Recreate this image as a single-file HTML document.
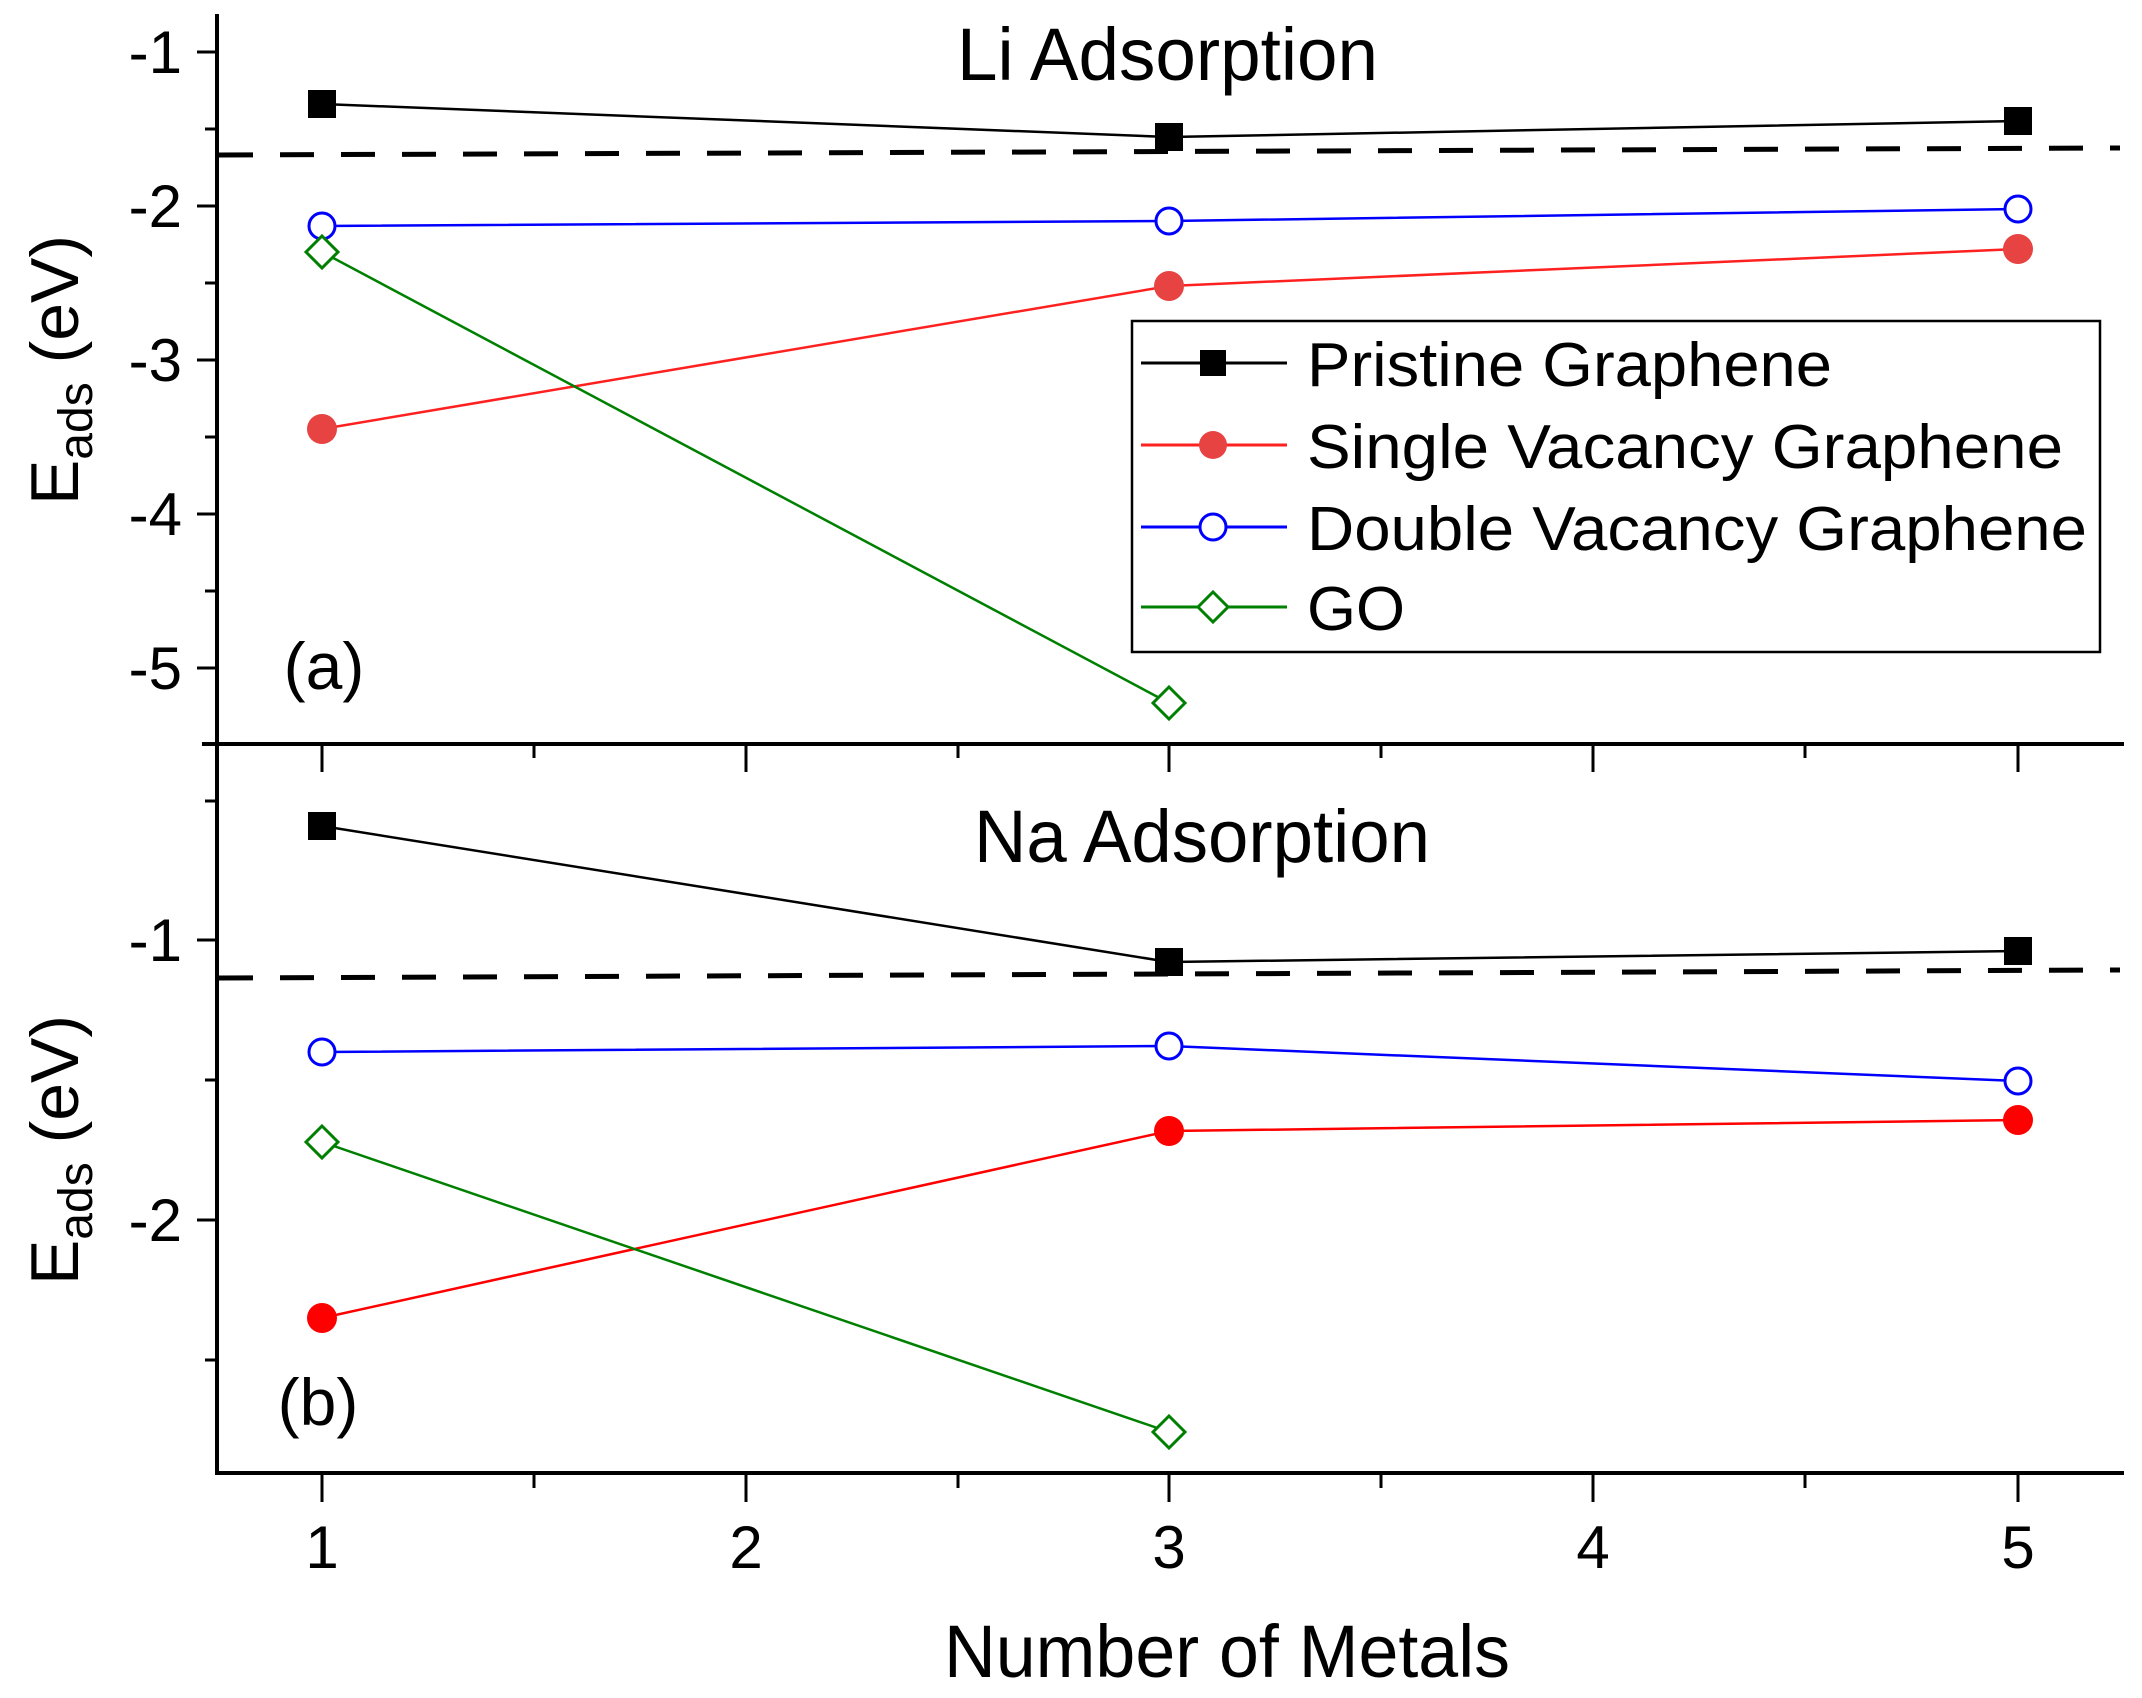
<!DOCTYPE html>
<html><head><meta charset="utf-8"><style>
html,body{margin:0;padding:0;background:#fff;}
svg{display:block;}
text{font-family:"Liberation Sans",Arial,sans-serif;fill:#000;}
</style></head><body>
<svg width="2142" height="1698" viewBox="0 0 2142 1698" xmlns="http://www.w3.org/2000/svg">
<g stroke="#000" stroke-width="4" fill="none">
<line x1="217" y1="14" x2="217" y2="1475"/>
<line x1="202" y1="744" x2="2124" y2="744"/>
<line x1="215" y1="1473" x2="2124" y2="1473"/>
</g>
<g stroke="#000" stroke-width="3">
<line x1="197" y1="52" x2="217" y2="52"/><line x1="197" y1="206" x2="217" y2="206"/>
<line x1="197" y1="360" x2="217" y2="360"/><line x1="197" y1="514" x2="217" y2="514"/>
<line x1="197" y1="668" x2="217" y2="668"/>
<line x1="205" y1="129" x2="217" y2="129"/><line x1="205" y1="283" x2="217" y2="283"/>
<line x1="205" y1="437" x2="217" y2="437"/><line x1="205" y1="591" x2="217" y2="591"/>
<line x1="197" y1="940" x2="217" y2="940"/><line x1="197" y1="1220" x2="217" y2="1220"/>
<line x1="205" y1="801" x2="217" y2="801"/><line x1="205" y1="1080" x2="217" y2="1080"/>
<line x1="205" y1="1360" x2="217" y2="1360"/>
<line x1="322" y1="744" x2="322" y2="772"/><line x1="746" y1="744" x2="746" y2="772"/>
<line x1="1169" y1="744" x2="1169" y2="772"/><line x1="1593" y1="744" x2="1593" y2="772"/>
<line x1="2018" y1="744" x2="2018" y2="772"/>
<line x1="534" y1="744" x2="534" y2="758"/><line x1="958" y1="744" x2="958" y2="758"/>
<line x1="1381" y1="744" x2="1381" y2="758"/><line x1="1805" y1="744" x2="1805" y2="758"/>
<line x1="322" y1="1473" x2="322" y2="1502"/><line x1="746" y1="1473" x2="746" y2="1502"/>
<line x1="1169" y1="1473" x2="1169" y2="1502"/><line x1="1593" y1="1473" x2="1593" y2="1502"/>
<line x1="2018" y1="1473" x2="2018" y2="1502"/>
<line x1="534" y1="1473" x2="534" y2="1488"/><line x1="958" y1="1473" x2="958" y2="1488"/>
<line x1="1381" y1="1473" x2="1381" y2="1488"/><line x1="1805" y1="1473" x2="1805" y2="1488"/>
</g>
<g font-size="60" text-anchor="end">
<text x="182" y="73">-1</text><text x="182" y="227">-2</text><text x="182" y="381">-3</text>
<text x="182" y="535">-4</text><text x="182" y="689">-5</text>
<text x="182" y="961">-1</text><text x="182" y="1241">-2</text>
</g>
<g font-size="60" text-anchor="middle">
<text x="322" y="1568">1</text><text x="746" y="1568">2</text><text x="1169" y="1568">3</text>
<text x="1593" y="1568">4</text><text x="2018" y="1568">5</text>
</g>
<text x="944" y="1677" font-size="74" textLength="566" lengthAdjust="spacingAndGlyphs">Number of Metals</text>
<g font-size="68">
<text transform="translate(78,370) rotate(-90)" text-anchor="middle">E<tspan font-size="48" dy="14">ads</tspan><tspan dy="-14"> (eV)</tspan></text>
<text transform="translate(78,1150) rotate(-90)" text-anchor="middle">E<tspan font-size="48" dy="14">ads</tspan><tspan dy="-14"> (eV)</tspan></text>
</g>
<text x="957" y="80" font-size="74" textLength="421" lengthAdjust="spacingAndGlyphs">Li Adsorption</text>
<text x="974" y="862" font-size="74" textLength="456" lengthAdjust="spacingAndGlyphs">Na Adsorption</text>
<text x="324" y="689" font-size="66" text-anchor="middle">(a)</text>
<text x="318" y="1425" font-size="66" text-anchor="middle">(b)</text>
<g stroke="#000" stroke-width="5" stroke-dasharray="34 27" fill="none">
<line x1="219" y1="155" x2="2120" y2="148"/>
<line x1="219" y1="978" x2="2120" y2="970"/>
</g>
<g fill="none" stroke-width="2.5">
<polyline points="322,104 1169,137 2018,121" stroke="#000"/>
<polyline points="322,429 1169,286 2018,249" stroke="#ff2020"/>
<polyline points="322,226 1169,221 2018,209" stroke="#0000ff"/>
<polyline points="322,252 1169,703" stroke="#008000"/>
<polyline points="322,826 1169,962 2018,951" stroke="#000"/>
<polyline points="322,1318 1169,1131 2018,1120" stroke="#ff0000"/>
<polyline points="322,1052 1169,1046 2018,1081" stroke="#0000ff"/>
<polyline points="322,1142 1169,1432" stroke="#008000"/>
</g>
<g fill="#000">
<rect x="308" y="90" width="28" height="28"/><rect x="1155" y="123" width="28" height="28"/><rect x="2004" y="107" width="28" height="28"/>
<rect x="308" y="812" width="28" height="28"/><rect x="1155" y="948" width="28" height="28"/><rect x="2004" y="937" width="28" height="28"/>
</g>
<g fill="#e84343">
<circle cx="322" cy="429" r="15"/><circle cx="1169" cy="286" r="15"/><circle cx="2018" cy="249" r="15"/>
</g>
<g fill="#ff0000">
<circle cx="322" cy="1318" r="15"/><circle cx="1169" cy="1131" r="15"/><circle cx="2018" cy="1120" r="15"/>
</g>
<g fill="#fff" stroke="#0000ff" stroke-width="3">
<circle cx="322" cy="226" r="13"/><circle cx="1169" cy="221" r="13"/><circle cx="2018" cy="209" r="13"/>
<circle cx="322" cy="1052" r="13"/><circle cx="1169" cy="1046" r="13"/><circle cx="2018" cy="1081" r="13"/>
</g>
<g fill="#fff" stroke="#008000" stroke-width="3">
<polygon points="322,236 338,252 322,268 306,252"/><polygon points="1169,687 1185,703 1169,719 1153,703"/>
<polygon points="322,1126 338,1142 322,1158 306,1142"/><polygon points="1169,1416 1185,1432 1169,1448 1153,1432"/>
</g>
<rect x="1132" y="321" width="968" height="331" fill="#fff" stroke="#000" stroke-width="2.5"/>
<g stroke-width="3">
<line x1="1141" y1="363" x2="1287" y2="363" stroke="#000"/>
<line x1="1141" y1="445" x2="1287" y2="445" stroke="#ff2020"/>
<line x1="1141" y1="527" x2="1287" y2="527" stroke="#0000ff"/>
<line x1="1141" y1="607" x2="1287" y2="607" stroke="#008000"/>
</g>
<rect x="1200" y="350" width="26" height="26" fill="#000"/>
<circle cx="1213" cy="445" r="14" fill="#e84343"/>
<circle cx="1213" cy="527" r="13" fill="#fff" stroke="#0000ff" stroke-width="3"/>
<polygon points="1213,592 1228,607 1213,622 1198,607" fill="#fff" stroke="#008000" stroke-width="3"/>
<g font-size="62">
<text x="1307" y="386" textLength="525" lengthAdjust="spacingAndGlyphs">Pristine Graphene</text>
<text x="1307" y="468" textLength="756" lengthAdjust="spacingAndGlyphs">Single Vacancy Graphene</text>
<text x="1307" y="550" textLength="780" lengthAdjust="spacingAndGlyphs">Double Vacancy Graphene</text>
<text x="1307" y="630" textLength="98" lengthAdjust="spacingAndGlyphs">GO</text>
</g>
</svg>
</body></html>
